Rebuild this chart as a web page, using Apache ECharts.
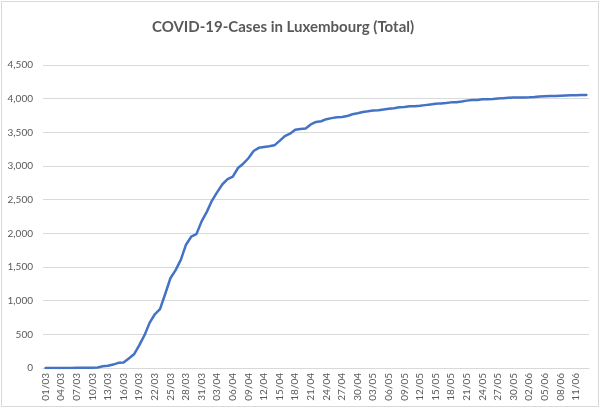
<!DOCTYPE html>
<html>
<head>
<meta charset="utf-8">
<script src="https://cdn.jsdelivr.net/npm/echarts@6/dist/echarts.min.js"></script>
<style>
  html, body { margin: 0; padding: 0; background: #fff; }
  #chart { position: absolute; left: 1px; top: 1px; width: 596px; height: 404px; border: 1px solid #d9d9d9; }
</style>
</head>
<body>
<div id="chart"></div>
<script>
// days from 01/03 to 13/06
const days = []
const monthLens = [[3, 31], [4, 30], [5, 31], [6, 13]]
monthLens.forEach(([m, n]) => {
  for (let d = 1; d <= n; d++) {
    days.push(String(d).padStart(2, '0') + '/' + String(m).padStart(2, '0'))
  }
})

const casesMarch = [
  1, 1, 1, 1, 1, 1, 2, 3, 3, 5, 7, 26, 34, 51, 77, 81, 140, 203, 335, 484,
  670, 798, 875, 1099, 1333, 1453, 1605, 1831, 1950, 1988, 2178,
]
const casesApril = [
  2319, 2487, 2612, 2729, 2804, 2843, 2970, 3034, 3115, 3223, 3270, 3281, 3292, 3307, 3373,
  3444, 3480, 3537, 3550, 3558, 3618, 3654, 3665, 3695, 3711, 3723, 3729, 3741, 3769, 3784,
]
const casesMay = [
  3802, 3812, 3824, 3828, 3840, 3851, 3859, 3871, 3877, 3886, 3888, 3894, 3904, 3915, 3923, 3930,
  3935, 3945, 3947, 3958, 3971, 3980, 3981, 3990, 3993, 3995, 4001, 4008, 4012, 4016, 4018,
]
const casesJune = [4019, 4020, 4024, 4032, 4035, 4039, 4040, 4043, 4046, 4049, 4052, 4054, 4056]
const cases = casesMarch.concat(casesApril, casesMay, casesJune)

const mycharts = echarts.init(document.getElementById('chart'))
mycharts.setOption({
  animation: false,
  title: {
    text: 'COVID-19-Cases in Luxembourg (Total)',
    left: 145,
    top: 13,
    textStyle: { fontFamily: 'Lato', fontSize: 15, fontWeight: 'bold', color: '#595959' },
  },
  grid: { left: 41, right: 9, top: 63, bottom: 38 },
  xAxis: {
    type: 'category',
    data: days,
    boundaryGap: true,
    axisLine: { lineStyle: { color: '#d9d9d9' } },
    axisTick: { show: false },
    axisLabel: {
      interval: 2,
      rotate: 90,
      color: '#595959',
      fontFamily: 'Lato',
      fontSize: 10,
      margin: 5,
    },
  },
  yAxis: {
    type: 'value',
    min: 0,
    max: 4500,
    interval: 500,
    axisLine: { show: false },
    axisTick: { show: false },
    splitLine: { lineStyle: { color: '#d9d9d9' } },
    axisLabel: {
      color: '#595959',
      fontFamily: 'Lato',
      fontSize: 10,
      margin: 10,
      formatter: v => v.toLocaleString('en-US'),
    },
  },
  series: [
    {
      type: 'line',
      data: cases,
      showSymbol: false,
      lineStyle: { color: '#4472c4', width: 2.5, cap: 'round', join: 'round' },
    },
  ],
})
</script>
</body>
</html>
